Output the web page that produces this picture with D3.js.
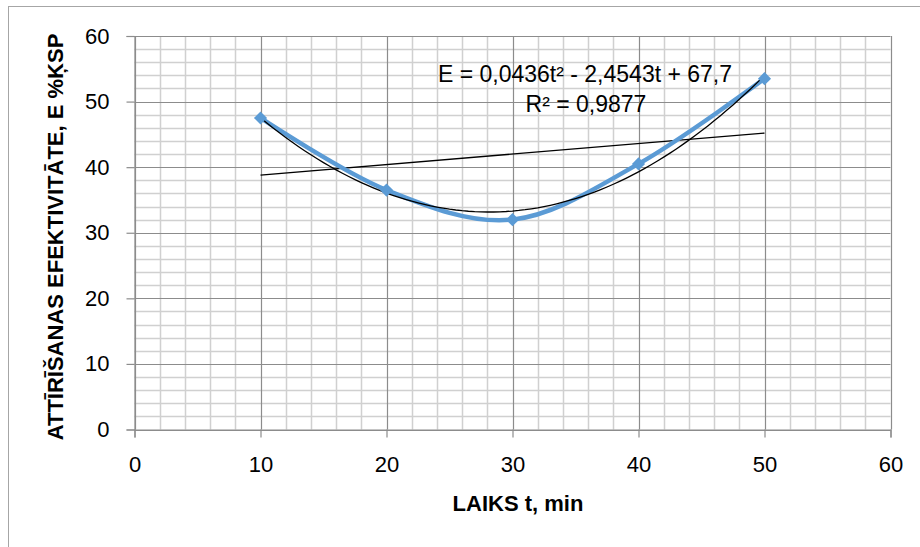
<!DOCTYPE html>
<html>
<head>
<meta charset="utf-8">
<script src="https://cdn.jsdelivr.net/npm/d3@7"></script>
<style>
  body { margin: 0; background: #fff; }
  text { font-family: "Liberation Sans", Arial, sans-serif; fill: #000; }
</style>
</head>
<body>
<svg id="chart" width="920" height="547"></svg>
<script>
// measured data
const times = [10, 20, 30, 40, 50];
const efficiency = [47.5, 36.5, 32, 40.5, 53.5];
// polynomial trend coefficients shown on chart (a t^2 + b t + c)
const polyCoef = [0.0436, -2.4543, 67.7];
const xTicks = [0, 10, 20, 30, 40, 50, 60];
const yTicks = [0, 10, 20, 30, 40, 50, 60];
const eqLabel = "E = 0,0436t² - 2,4543t + 67,7";
const r2Label = "R² = 0,9877";
const xTitle = "LAIKS t, min";
const yTitle = "ATTĪRĪŠANAS EFEKTIVITĀTE,  E %ĶSP";

const svg = d3.select("#chart");
const pLeft = 134.5, pRight = 890.5, pTop = 36, pBottom = 429.5;

const x = d3.scaleLinear().domain([0, 60]).range([pLeft, pRight]);
const y = d3.scaleLinear().domain([0, 60]).range([pBottom, pTop]);

// chart frame
svg.append("rect")
    .attr("x", 8.5).attr("y", 6.5)
    .attr("width", 940).attr("height", 560)
    .attr("fill", "#fff").attr("stroke", "#a6a6a6");

// minor grid
const g = svg.append("g");
const minor = d3.range(0, 61, 2).filter(v => v % 10 != 0);
g.selectAll(".vmin").data(minor)
    .enter().append("line")
    .attr("x1", d => Math.round(x(d)) + 0.5).attr("x2", d => Math.round(x(d)) + 0.5)
    .attr("y1", pTop).attr("y2", pBottom)
    .attr("stroke", "#d0d0d0").attr("stroke-width", 1.5);
g.selectAll(".hmin").data(minor)
    .enter().append("line")
    .attr("y1", d => Math.round(y(d)) + 0.5).attr("y2", d => Math.round(y(d)) + 0.5)
    .attr("x1", pLeft).attr("x2", pRight)
    .attr("stroke", "#d0d0d0").attr("stroke-width", 1.5);
// major grid
g.selectAll(".vmaj").data(xTicks)
    .enter().append("line")
    .attr("x1", d => Math.round(x(d)) + 0.5).attr("x2", d => Math.round(x(d)) + 0.5)
    .attr("y1", pTop).attr("y2", pBottom)
    .attr("stroke", "#8c8c8c").attr("stroke-width", 1.2);
g.selectAll(".hmaj").data(yTicks)
    .enter().append("line")
    .attr("y1", d => Math.round(y(d)) + 0.5).attr("y2", d => Math.round(y(d)) + 0.5)
    .attr("x1", pLeft).attr("x2", pRight)
    .attr("stroke", "#8c8c8c").attr("stroke-width", 1.2);

// axes
const xAxis = d3.axisBottom(x).tickValues(xTicks).tickSize(8).tickPadding(19);
const yAxis = d3.axisLeft(y).tickValues(yTicks).tickSize(8).tickPadding(17);

const gx = svg.append("g").attr("transform", `translate(0,${pBottom})`).call(xAxis);
const gy = svg.append("g").attr("transform", `translate(${pLeft},0)`).call(yAxis);
[gx, gy].forEach(a => {
    a.select(".domain").attr("stroke", "#8c8c8c").attr("stroke-width", 1.2);
    a.selectAll(".tick line").attr("stroke", "#8c8c8c").attr("stroke-width", 1.2);
    a.selectAll(".tick text").style("font-family", "'Liberation Sans', Arial, sans-serif")
        .style("font-size", "22px").attr("fill", "#000");
});

// linear trend (least squares from data)
const mx = d3.mean(times), my = d3.mean(efficiency);
const slope = d3.sum(times, (t, i) => (t - mx) * (efficiency[i] - my)) / d3.sum(times, t => (t - mx) ** 2);
const icpt = my - slope * mx;
svg.append("line")
    .attr("x1", x(10)).attr("y1", y(icpt + slope * 10))
    .attr("x2", x(50)).attr("y2", y(icpt + slope * 50))
    .attr("stroke", "#000").attr("stroke-width", 1.3);

// data line (smoothed)
const pts = times.map((t, i) => [t, efficiency[i]]);
svg.append("path")
    .datum(pts)
    .attr("fill", "none")
    .attr("stroke", "#5b9bd5")
    .attr("stroke-width", 4.5)
    .attr("stroke-linejoin", "round")
    .attr("d", d3.line().x(d => x(d[0])).y(d => y(d[1])).curve(d3.curveCardinal.tension(0)));

// polynomial trend
const polyPts = d3.range(10, 50.01, 0.5).map(t => [t, polyCoef[0] * t * t + polyCoef[1] * t + polyCoef[2]]);
svg.append("path")
    .datum(polyPts)
    .attr("fill", "none")
    .attr("stroke", "#000")
    .attr("stroke-width", 1.3)
    .attr("d", d3.line().x(d => x(d[0])).y(d => y(d[1])));

// markers
svg.selectAll(".mk").data(pts).enter().append("path")
    .attr("transform", d => `translate(${x(d[0])},${y(d[1])})`)
    .attr("d", d3.symbol(d3.symbolDiamond2, 110)())
    .attr("fill", "#5b9bd5");

// equation labels
svg.append("text").attr("x", 585).attr("y", 82).attr("text-anchor", "middle")
    .style("font-size", "23px").text(eqLabel);
svg.append("text").attr("x", 586).attr("y", 112).attr("text-anchor", "middle")
    .style("font-size", "23px").text(r2Label);

// axis titles
svg.append("text").attr("x", 518).attr("y", 511).attr("text-anchor", "middle")
    .style("font-size", "22px").style("font-weight", "bold").text(xTitle);
svg.append("text").attr("transform", "translate(63,237) rotate(-90)")
    .attr("text-anchor", "middle")
    .style("font-size", "22px").style("font-weight", "bold").text(yTitle);
</script>
</body>
</html>
